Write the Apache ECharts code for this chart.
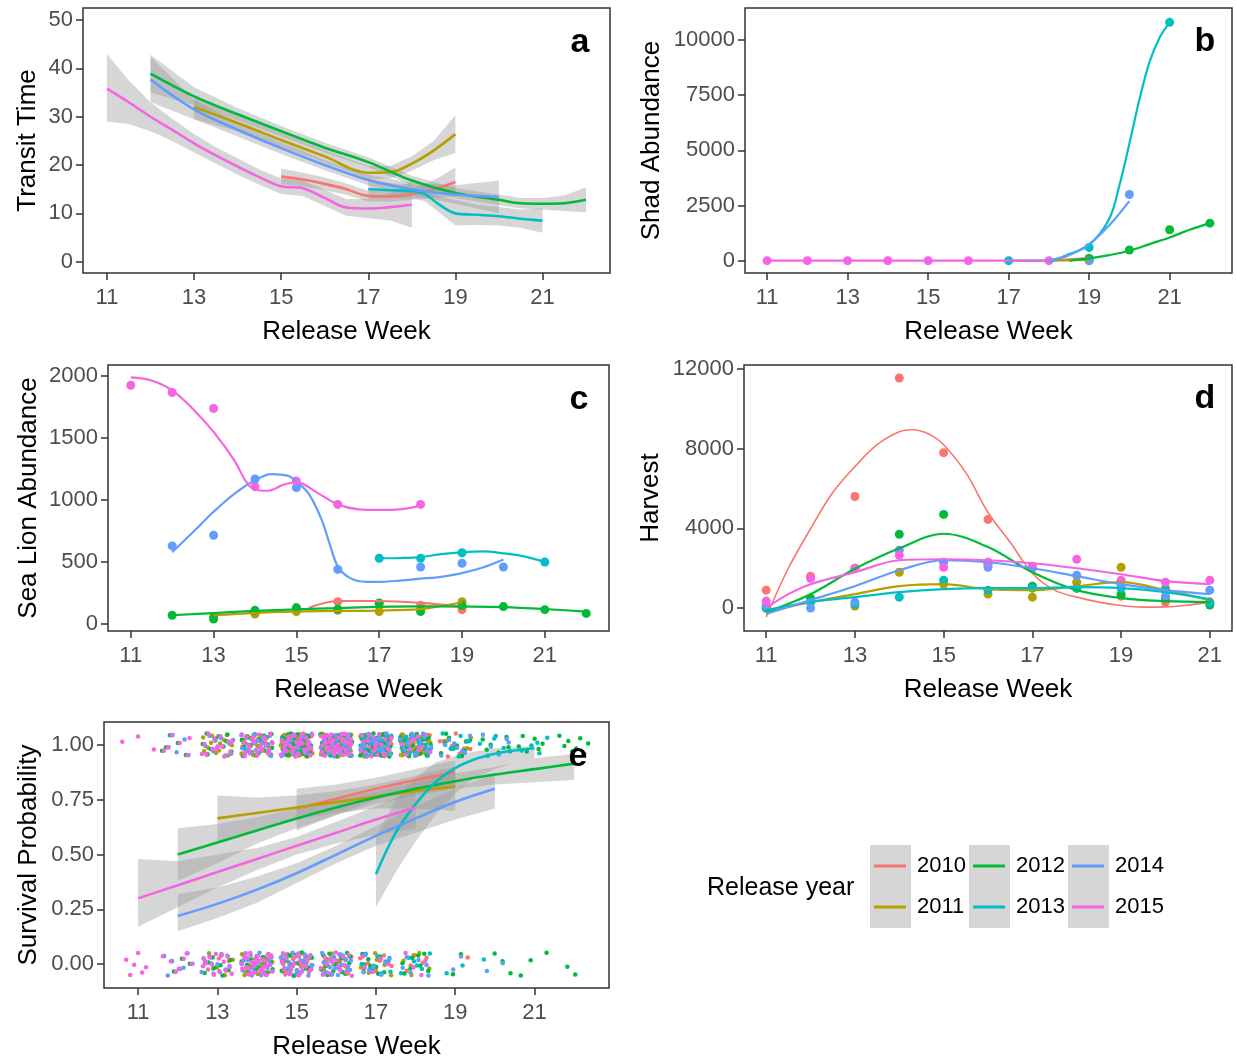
<!DOCTYPE html>
<html>
<head>
<meta charset="utf-8">
<title>Release week panels</title>
<script src="https://cdn.jsdelivr.net/npm/echarts@6/dist/echarts.min.js"></script>
<style>
  html, body { margin: 0; padding: 0; background: #fff; }
  #chart { width: 1236px; height: 1059px; }
</style>
</head>
<body>
<div id="chart"></div>
<script>
var years = ['2010', '2011', '2012', '2013', '2014', '2015'];
var yearColors = ['#F8766D', '#B79F00', '#00BA38', '#00BFC4', '#619CFF', '#F564E3'];
var weekTicks = [11, 13, 15, 17, 19, 21];

// panel a: transit time smooth [week, fit, lower, upper]
var transit2010 = [[15, 17.6, 16.0, 19.3], [15.5, 17.0, 15.6, 18.4], [16, 16.1, 14.8, 17.4], [16.5, 15.0, 13.8, 16.2], [17, 13.6, 12.5, 14.7], [17.5, 13.5, 12.4, 14.6], [18, 14.0, 12.8, 15.2], [18.5, 15.0, 13.2, 16.8], [19, 16.5, 13.5, 19.5]];
var transit2011 = [[13, 32.0, 29.5, 34.5], [14, 28.7, 27.0, 30.4], [15, 25.2, 23.8, 26.6], [16, 21.8, 20.5, 23.1], [17, 18.4, 17.0, 19.8], [17.5, 18.5, 17.2, 19.8], [18, 20.3, 18.8, 21.8], [18.5, 23.0, 21.0, 25.0], [19, 26.4, 22.5, 30.3]];
var transit2012 = [[12, 38.9, 35.0, 42.8], [13, 34.2, 32.3, 36.1], [14, 30.5, 29.2, 31.8], [15, 27.0, 25.9, 28.1], [16, 23.6, 22.6, 24.6], [17, 20.6, 19.6, 21.6], [18, 16.8, 15.8, 17.8], [19, 14.2, 13.2, 15.2], [20, 12.8, 11.7, 13.9], [20.5, 12.1, 11.0, 13.2], [21, 12.0, 10.8, 13.2], [21.5, 12.1, 10.5, 13.7], [22, 12.8, 10.2, 15.4]];
var transit2013 = [[17, 15.0, 13.0, 17.0], [17.5, 14.8, 13.3, 16.3], [18, 14.6, 13.2, 16.0], [18.3, 14.0, 12.5, 15.5], [18.6, 12.0, 10.4, 13.6], [19, 10.0, 7.5, 12.8], [19.5, 9.7, 7.6, 11.8], [20, 9.4, 7.5, 11.3], [20.5, 8.9, 7.0, 10.8], [21, 8.5, 6.0, 11.0]];
var transit2014 = [[12, 37.7, 33.0, 42.4], [13, 31.5, 29.5, 33.5], [14, 27.3, 25.9, 28.7], [15, 23.5, 22.3, 24.7], [16, 20.0, 18.9, 21.1], [17, 16.9, 15.8, 18.0], [18, 15.0, 13.7, 16.3], [19, 13.9, 12.0, 15.8], [20, 13.4, 10.0, 16.8]];
var transit2015 = [[11, 35.8, 29.0, 43.0], [11.5, 33.0, 28.5, 37.5], [12, 30.0, 27.0, 33.0], [12.5, 27.3, 25.0, 29.6], [13, 24.5, 22.6, 26.4], [13.5, 22.0, 20.3, 23.7], [14, 19.7, 18.0, 21.4], [14.5, 17.5, 15.9, 19.1], [15, 15.6, 14.0, 17.2], [15.5, 15.2, 13.6, 16.8], [16, 13.2, 11.5, 14.9], [16.5, 11.2, 9.5, 12.9], [17, 11.0, 9.0, 13.0], [17.5, 11.3, 8.5, 14.1], [18, 11.8, 7.0, 16.6]];

// panel b: shad abundance, points and smooth
var shadPts2010 = [[19, 100]];
var shadFit2010 = [[18, 0], [18.5, 60], [19, 120]];
var shadPts2011 = [[19, 0]];
var shadFit2011 = [[18, 0], [19, 30]];
var shadPts2012 = [[19, 100], [20, 480], [21, 1400], [22, 1700]];
var shadFit2012 = [[18.5, 0], [19, 100], [19.5, 250], [20, 450], [20.5, 750], [21, 1050], [21.5, 1400], [22, 1700]];
var shadPts2013 = [[17, 0], [19, 600], [21, 10800]];
var shadFit2013 = [[17, 0], [18, 0], [18.5, 300], [19, 700], [19.5, 1900], [19.75, 3400], [20, 5300], [20.25, 7300], [20.5, 9000], [20.75, 10100], [21, 10800]];
var shadPts2014 = [[19, 0], [20, 3000]];
var shadFit2014 = [[18, 0], [18.5, 250], [19, 750], [19.5, 1600], [20, 2700]];
var shadPts2015 = [[11, 0], [12, 0], [13, 0], [14, 0], [15, 0], [16, 0], [18, 0]];
var shadFit2015 = [[11, 0], [12, 0], [13, 0], [14, 0], [15, 0], [16, 0], [17, 0], [18, 0]];

// panel c: sea lion abundance
var lionPts2010 = [[15, 130], [16, 180], [17, 165], [18, 150], [19, 115]];
var lionFit2010 = [[15.3, 130], [16, 185], [17, 185], [18, 170], [19, 140]];
var lionPts2011 = [[13, 60], [14, 80], [15, 100], [16, 110], [17, 100], [18, 110], [19, 180]];
var lionFit2011 = [[13, 70], [14, 90], [15, 100], [16, 105], [17, 108], [18, 120], [18.5, 145], [19, 175]];
var lionPts2012 = [[12, 70], [13, 40], [14, 110], [15, 130], [16, 120], [17, 170], [18, 100], [19, 150], [20, 140], [21, 115], [22, 85]];
var lionFit2012 = [[12, 70], [13, 88], [14, 105], [15, 118], [16, 128], [17, 138], [18, 142], [19, 140], [20, 135], [21, 120], [22, 100]];
var lionPts2013 = [[17, 530], [18, 530], [19, 575], [21, 500]];
var lionFit2013 = [[17, 530], [17.5, 532], [18, 540], [18.5, 563], [19, 578], [19.5, 585], [20, 570], [20.5, 545], [21, 500]];
var lionPts2014 = [[12, 630], [13, 715], [14, 1170], [15, 1100], [16, 440], [18, 460], [19, 490], [20, 460]];
var lionFit2014 = [[12, 580], [12.5, 740], [13, 905], [13.5, 1050], [14, 1160], [14.4, 1210], [14.8, 1195], [15, 1150], [15.3, 1050], [15.6, 850], [15.8, 650], [16, 465], [16.3, 370], [16.7, 340], [17, 340], [17.5, 350], [18, 365], [18.5, 380], [19, 410], [19.5, 455], [20, 520]];
var lionPts2015 = [[11, 1927], [12, 1868], [13, 1739], [14, 1108], [15, 1153], [16, 965], [18, 965]];
var lionFit2015 = [[11, 1990], [11.5, 1965], [12, 1885], [12.5, 1735], [13, 1550], [13.5, 1320], [13.8, 1140], [14, 1085], [14.3, 1075], [14.7, 1125], [15, 1145], [15.5, 1060], [16, 965], [16.5, 925], [17, 920], [17.5, 925], [18, 955]];

// panel d: harvest
var harvPts2010 = [[11, 900], [12, 1600], [13, 5600], [14, 11550], [15, 7800], [16, 4450], [17, 1100], [18, 1000], [19, 600], [20, 300], [21, 300]];
var harvFit2010 = [[11, -450], [11.5, 2000], [12, 3980], [12.5, 5800], [13, 7100], [13.5, 8200], [14, 8850], [14.3, 8950], [14.7, 8700], [15, 8200], [15.5, 6800], [16, 4800], [16.5, 3300], [17, 1750], [17.5, 900], [18, 550], [18.5, 300], [19, 130], [19.5, 50], [20, 60], [20.5, 150], [21, 300]];
var harvPts2011 = [[11, 0], [12, 300], [13, 100], [14, 1800], [15, 1200], [16, 700], [17, 550], [18, 1300], [19, 2050], [20, 1000], [21, 300]];
var harvFit2011 = [[11, -200], [12, 300], [13, 700], [14, 1100], [15, 1200], [16, 950], [17, 900], [18, 1100], [19, 1300], [20, 900], [21, 400]];
var harvPts2012 = [[11, 100], [12, 500], [13, 2000], [14, 3700], [15, 4700], [16, 2200], [17, 1100], [18, 1000], [19, 700], [20, 500], [21, 150]];
var harvFit2012 = [[11, -200], [12, 700], [13, 1970], [14, 3000], [15, 3730], [16, 3060], [17, 1800], [18, 900], [19, 500], [20, 350], [21, 300]];
var harvPts2013 = [[11, 0], [12, 300], [13, 200], [14, 550], [15, 1400], [16, 900], [17, 1000], [18, 1000], [19, 1000], [20, 900], [21, 250]];
var harvFit2013 = [[11, -100], [12, 300], [13, 550], [14, 800], [15, 950], [16, 1000], [17, 1000], [18, 1050], [19, 1000], [20, 800], [21, 450]];
var harvPts2014 = [[11, 150], [12, 0], [13, 300], [14, 2900], [15, 2300], [16, 2050], [17, 2000], [18, 1650], [19, 1100], [20, 600], [21, 900]];
var harvFit2014 = [[11, -300], [12, 400], [13, 1100], [14, 1900], [15, 2400], [16, 2300], [17, 2000], [18, 1600], [19, 1200], [20, 900], [21, 700]];
var harvPts2015 = [[11, 350], [12, 1500], [13, 2000], [14, 2650], [15, 2050], [16, 2300], [17, 2100], [18, 2450], [19, 1400], [20, 1300], [21, 1400]];
var harvFit2015 = [[11, 0], [11.5, 700], [12, 1200], [13, 1800], [14, 2400], [15, 2450], [16, 2400], [17, 2250], [18, 2000], [19, 1700], [20, 1350], [21, 1200]];

// panel e: survival smooth [week, fit, lower, upper]
var surv2010 = [[15, 0.71, 0.61, 0.80], [16, 0.755, 0.68, 0.82], [17, 0.80, 0.75, 0.85], [18, 0.84, 0.79, 0.89], [19, 0.875, 0.81, 0.93]];
var surv2011 = [[13, 0.665, 0.55, 0.77], [14, 0.69, 0.61, 0.76], [15, 0.715, 0.66, 0.77], [16, 0.74, 0.69, 0.79], [17, 0.765, 0.71, 0.82], [18, 0.79, 0.71, 0.86], [19, 0.81, 0.70, 0.90]];
var surv2012 = [[12, 0.50, 0.38, 0.62], [13, 0.555, 0.46, 0.64], [14, 0.61, 0.55, 0.67], [15, 0.665, 0.62, 0.71], [16, 0.715, 0.68, 0.75], [17, 0.76, 0.73, 0.79], [18, 0.80, 0.77, 0.83], [19, 0.835, 0.80, 0.87], [20, 0.865, 0.82, 0.90], [21, 0.89, 0.83, 0.94], [22, 0.915, 0.84, 0.96]];
var surv2013 = [[17, 0.41, 0.26, 0.58], [17.5, 0.60, 0.42, 0.75], [18, 0.73, 0.56, 0.85], [18.5, 0.83, 0.68, 0.92], [19, 0.895, 0.78, 0.95], [19.5, 0.935, 0.85, 0.97], [20, 0.96, 0.89, 0.985], [20.5, 0.975, 0.92, 0.99], [21, 0.985, 0.94, 0.995]];
var surv2014 = [[12, 0.22, 0.15, 0.32], [13, 0.275, 0.21, 0.35], [14, 0.34, 0.28, 0.40], [15, 0.415, 0.37, 0.46], [16, 0.50, 0.46, 0.54], [17, 0.585, 0.54, 0.63], [18, 0.665, 0.60, 0.72], [19, 0.74, 0.66, 0.80], [20, 0.80, 0.71, 0.87]];
var surv2015 = [[11, 0.30, 0.17, 0.48], [12, 0.36, 0.26, 0.47], [13, 0.42, 0.35, 0.50], [14, 0.48, 0.43, 0.53], [15, 0.54, 0.50, 0.58], [16, 0.60, 0.55, 0.65], [17, 0.66, 0.59, 0.72], [18, 0.715, 0.62, 0.80]];

// panel e: fish counts per release week (survived = 1, died = 0)
var survWeeks = [11, 12, 13, 14, 15, 16, 17, 18, 19, 20, 21, 22];
var survived2010 = [0, 0, 0, 0, 30, 38, 30, 20, 8, 0, 0, 0];
var survived2011 = [0, 0, 16, 24, 32, 30, 32, 18, 5, 0, 0, 0];
var survived2012 = [0, 5, 10, 20, 30, 30, 36, 24, 10, 6, 6, 8];
var survived2013 = [0, 0, 0, 0, 0, 0, 28, 20, 9, 6, 5, 0];
var survived2014 = [0, 5, 10, 28, 32, 36, 22, 14, 8, 5, 0, 0];
var survived2015 = [3, 6, 14, 24, 32, 36, 22, 10, 0, 0, 0, 0];
var died2010 = [0, 0, 0, 0, 14, 14, 7, 5, 1, 0, 0, 0];
var died2011 = [0, 0, 8, 14, 14, 12, 6, 5, 0, 0, 0, 0];
var died2012 = [0, 6, 8, 16, 16, 16, 10, 8, 2, 3, 3, 2];
var died2013 = [0, 0, 0, 0, 0, 0, 10, 6, 2, 1, 0, 0];
var died2014 = [0, 7, 12, 32, 28, 20, 7, 6, 2, 2, 0, 0];
var died2015 = [6, 7, 16, 30, 18, 16, 5, 4, 0, 0, 0, 0];

var transitRows = [transit2010, transit2011, transit2012, transit2013, transit2014, transit2015];
var shadPts = [shadPts2010, shadPts2011, shadPts2012, shadPts2013, shadPts2014, shadPts2015];
var shadFits = [shadFit2010, shadFit2011, shadFit2012, shadFit2013, shadFit2014, shadFit2015];
var lionPts = [lionPts2010, lionPts2011, lionPts2012, lionPts2013, lionPts2014, lionPts2015];
var lionFits = [lionFit2010, lionFit2011, lionFit2012, lionFit2013, lionFit2014, lionFit2015];
var harvPts = [harvPts2010, harvPts2011, harvPts2012, harvPts2013, harvPts2014, harvPts2015];
var harvFits = [harvFit2010, harvFit2011, harvFit2012, harvFit2013, harvFit2014, harvFit2015];
var survRows = [surv2010, surv2011, surv2012, surv2013, surv2014, surv2015];
var survivedCounts = [survived2010, survived2011, survived2012, survived2013, survived2014, survived2015];
var diedCounts = [died2010, died2011, died2012, died2013, died2014, died2015];

var FONT = 'Liberation Sans, Arial, sans-serif';
var RIBBON = 'rgba(153,153,153,0.4)';

// grid boxes: left, top, width, height
var boxes = [[83, 8, 527, 265], [745, 8, 487, 265], [108, 365, 501, 266], [744, 365, 488, 266], [104, 722, 505, 266]];

function xAxisFor(gi, min, max) {
    return {
        type: 'value', gridIndex: gi, position: 'bottom', min: min, max: max,
        name: 'Release Week', nameLocation: 'middle', nameGap: 46,
        nameTextStyle: { fontSize: 26, color: '#000', fontFamily: FONT },
        axisLine: { show: false, onZero: false },
        splitLine: { show: false },
        axisTick: { show: true, inside: false, length: 7, customValues: weekTicks, lineStyle: { color: '#333', width: 1.5 } },
        axisLabel: { customValues: weekTicks, fontSize: 22, color: '#4D4D4D', margin: 14, fontFamily: FONT }
    };
}

function yAxisFor(gi, min, max, ticks, name, gap, fmt) {
    return {
        type: 'value', gridIndex: gi, position: 'left', min: min, max: max,
        name: name, nameLocation: 'middle', nameGap: gap,
        nameTextStyle: { fontSize: 26, color: '#000', fontFamily: FONT },
        axisLine: { show: false, onZero: false },
        splitLine: { show: false },
        axisTick: { show: true, inside: false, length: 7, customValues: ticks, lineStyle: { color: '#333', width: 1.5 } },
        axisLabel: { customValues: ticks, fontSize: 22, color: '#4D4D4D', margin: 10, fontFamily: FONT, formatter: fmt }
    };
}

function ribbon(rows, gi) {
    return {
        type: 'custom', xAxisIndex: gi, yAxisIndex: gi, silent: true, z: 1,
        data: rows.map(function (r) { return [r[0], r[2], r[3]]; }),
        encode: { x: 0, y: [1, 2] },
        renderItem: function (params, api) {
            if (params.dataIndex !== 0) return null;
            var pts = [];
            for (var i = 0; i < rows.length; i++) pts.push(api.coord([rows[i][0], rows[i][3]]));
            for (var j = rows.length - 1; j >= 0; j--) pts.push(api.coord([rows[j][0], rows[j][2]]));
            return { type: 'polygon', shape: { points: pts }, style: { fill: RIBBON } };
        }
    };
}

function fitLine(name, color, pts, gi, width) {
    return {
        type: 'line', name: name, xAxisIndex: gi, yAxisIndex: gi, z: 3,
        data: pts, smooth: 0.35, showSymbol: false, silent: true,
        lineStyle: { color: color, width: width },
        itemStyle: { color: color }
    };
}

function dots(name, color, pts, gi, size) {
    return {
        type: 'scatter', name: name, xAxisIndex: gi, yAxisIndex: gi, z: 2,
        data: pts, symbolSize: size, silent: true,
        itemStyle: { color: color, opacity: 1 }
    };
}

// deterministic low-discrepancy spread, standing in for ggplot's position jitter
function halton(i, b) {
    var f = 1, r = 0;
    while (i > 0) { f /= b; r += f * (i % b); i = Math.floor(i / b); }
    return r;
}

var series = [];
// panel a
transitRows.forEach(function (rows) { series.push(ribbon(rows, 0)); });
transitRows.forEach(function (rows, k) {
    series.push(fitLine(years[k], yearColors[k], rows.map(function (r) { return [r[0], r[1]]; }), 0, 2.6));
});
// panel b
years.forEach(function (y, k) {
    series.push(dots(y, yearColors[k], shadPts[k], 1, 9));
    series.push(fitLine(y, yearColors[k], shadFits[k], 1, 2.2));
});
// panel c
years.forEach(function (y, k) {
    series.push(dots(y, yearColors[k], lionPts[k], 2, 9));
    series.push(fitLine(y, yearColors[k], lionFits[k], 2, 2.2));
});
// panel d
years.forEach(function (y, k) {
    series.push(dots(y, yearColors[k], harvPts[k], 3, 9));
    series.push(fitLine(y, yearColors[k], harvFits[k], 3, k === 0 ? 1.6 : 2.2));
});
// panel e
var jitterIdx = 1;
years.forEach(function (y, k) {
    var pts = [];
    survWeeks.forEach(function (w, wi) {
        for (var n = 0; n < survivedCounts[k][wi]; n++) {
            pts.push([w + (halton(jitterIdx, 2) - 0.5) * 0.8, 1 + (halton(jitterIdx, 3) - 0.5) * 0.106]);
            jitterIdx++;
        }
        for (var m = 0; m < diedCounts[k][wi]; m++) {
            pts.push([w + (halton(jitterIdx, 2) - 0.5) * 0.8, (halton(jitterIdx, 3) - 0.5) * 0.106]);
            jitterIdx++;
        }
    });
    series.push(dots(y, yearColors[k], pts, 4, 4.5));
});
survRows.forEach(function (rows) { series.push(ribbon(rows, 4)); });
survRows.forEach(function (rows, k) {
    series.push(fitLine(years[k], yearColors[k], rows.map(function (r) { return [r[0], r[1]]; }), 4, 2.6));
});

var fmt0 = function (v) { return String(v); };
var fmt2 = function (v) { return v.toFixed(2); };

var legendCols = [[years[0], years[1]], [years[2], years[3]], [years[4], years[5]]];
var legendLeft = [874, 973, 1072];

var graphics = [];
[870, 969, 1068].forEach(function (x) {
    graphics.push({ type: 'rect', z: 0, shape: { x: x, y: 845, width: 41, height: 83 }, style: { fill: '#D6D6D6' } });
});
graphics.push({ type: 'text', z: 5, style: { text: 'Release year', x: 707, y: 888, font: '25px ' + FONT, fill: '#000', textAlign: 'left', textVerticalAlign: 'middle' } });
[['a', 580, 43], ['b', 1205, 42], ['c', 579, 400], ['d', 1205, 399], ['e', 578, 757]].forEach(function (t) {
    graphics.push({ type: 'text', z: 5, style: { text: t[0], x: t[1], y: t[2], font: 'bold 34px ' + FONT, fill: '#000', textAlign: 'center', textVerticalAlign: 'middle' } });
});

var option = {
    animation: false,
    backgroundColor: '#fff',
    textStyle: { fontFamily: FONT },
    grid: boxes.map(function (b) {
        return { left: b[0], top: b[1], width: b[2], height: b[3], show: true, borderColor: '#333', borderWidth: 1.5, backgroundColor: 'transparent', outerBoundsMode: 'none' };
    }),
    xAxis: [
        xAxisFor(0, 10.45, 22.55),
        xAxisFor(1, 10.45, 22.55),
        xAxisFor(2, 10.45, 22.55),
        xAxisFor(3, 10.5, 21.5),
        xAxisFor(4, 10.14, 22.88)
    ],
    yAxis: [
        yAxisFor(0, -2.34, 52.5, [0, 10, 20, 30, 40, 50], 'Transit Time', 42, fmt0),
        yAxisFor(1, -560, 11450, [0, 2500, 5000, 7500, 10000], 'Shad Abundance', 80, fmt0),
        yAxisFor(2, -57, 2090, [0, 500, 1000, 1500, 2000], 'Sea Lion Abundance', 66, fmt0),
        yAxisFor(3, -1150, 12200, [0, 4000, 8000, 12000], 'Harvest', 80, fmt0),
        yAxisFor(4, -0.109, 1.105, [0, 0.25, 0.5, 0.75, 1], 'Survival Probability', 62, fmt2)
    ],
    legend: legendCols.map(function (names, i) {
        return {
            data: names, orient: 'vertical', left: legendLeft[i], top: 853, z: 10,
            padding: 0, itemGap: 15, itemWidth: 32, itemHeight: 3,
            icon: 'path://M0,0 L32,0 L32,3 L0,3 Z',
            selectedMode: false,
            textStyle: { fontSize: 22, color: '#000', fontFamily: FONT, lineHeight: 26, padding: [0, 0, 0, 6] }
        };
    }),
    graphic: graphics,
    series: series
};

var chart = echarts.init(document.getElementById('chart'));
chart.setOption(option);
</script>
</body>
</html>
